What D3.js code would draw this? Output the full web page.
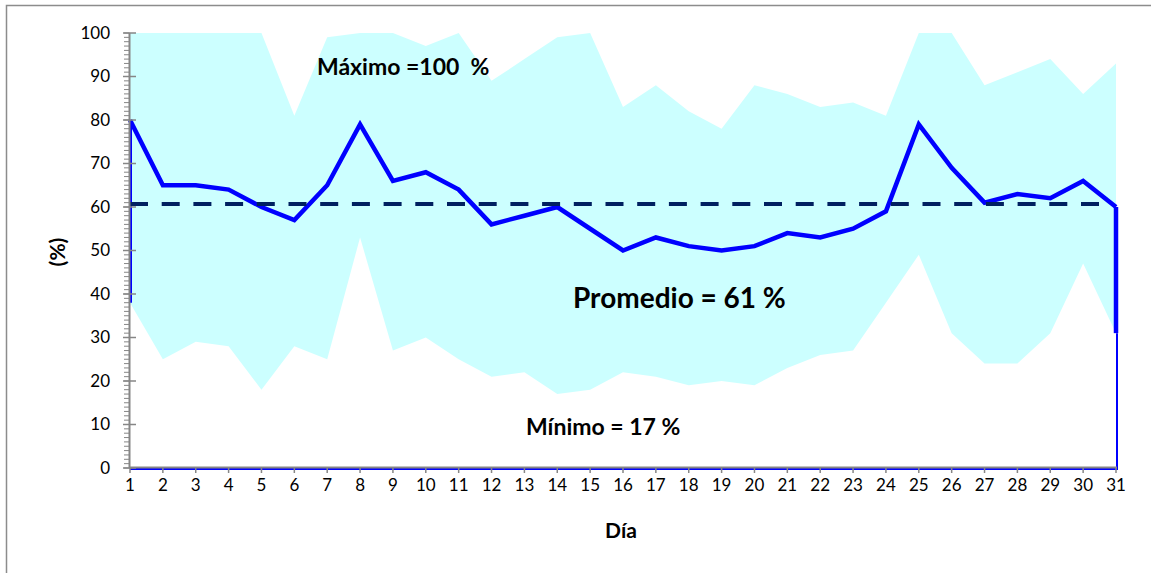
<!DOCTYPE html>
<html>
<head>
<meta charset="utf-8">
<script src="https://cdn.jsdelivr.net/npm/d3@7"></script>
<style>
  html, body { margin: 0; padding: 0; background: #fff; }
  svg { display: block; }
  text { font-family: Lato, Calibri, "Liberation Sans", sans-serif; fill: #000; }
</style>
</head>
<body>
<svg id="chart" width="1151" height="573"></svg>
<script>
// ---------- data ----------
const days = d3.range(1, 32);
const maxValues = [100,100,100,100,100,81,99,100,100,97,100,89,94,99,100,83,88,82,78,88,86,83,84,81,100,100,88,91,94,86,93];
const meanValues = [80,65,65,64,60,57,65,79,66,68,64,56,58,60,55,50,53,51,50,51,54,53,55,59,79,69,61,63,62,66,60];
const minValues = [38,25,29,28,18,28,25,53,27,30,25,21,22,17,18,22,21,19,20,19,23,26,27,38,49,31,24,24,31,47,31];
const overallMean = 60.7;
const yTicks = [0,10,20,30,40,50,60,70,80,90,100];
const labels = { max: "Máximo =100  %", mean: "Promedio = 61 %", min: "Mínimo = 17 %", xTitle: "Día", yTitle: "(%)" };

// ---------- scales ----------
const svg = d3.select("#chart");
const x = d3.scaleLinear().domain([1, 31]).range([130, 1116]);
const y = d3.scaleLinear().domain([0, 100]).range([468, 33]);

const rows = days.map((d, i) => ({ day: d, max: maxValues[i], mean: meanValues[i], min: minValues[i] }));

// frame
svg.append("rect").attr("x", 6.5).attr("y", 5.5).attr("width", 1170).attr("height", 600)
  .attr("fill", "#fff").attr("stroke", "#8c8c8c").attr("stroke-width", 1.5);

// band between min and max
svg.append("path").datum(rows)
  .attr("d", d3.area().x(d => x(d.day)).y0(d => y(d.min)).y1(d => y(d.max)))
  .attr("fill", "#CCFFFF");

// blue edges of the mean series (area outline)
const blue = "#0000FF";
svg.append("line").attr("x1", x(1) + 1).attr("x2", x(1) + 1)
  .attr("y1", y(meanValues[0])).attr("y2", y(minValues[0]))
  .attr("stroke", blue).attr("stroke-width", 2);
svg.append("line").attr("x1", x(31)).attr("x2", x(31))
  .attr("y1", y(meanValues[30])).attr("y2", y(minValues[30]))
  .attr("stroke", blue).attr("stroke-width", 4.5);
svg.append("line").attr("x1", x(31) + 1).attr("x2", x(31) + 1)
  .attr("y1", y(minValues[30])).attr("y2", y(0) + 1)
  .attr("stroke", blue).attr("stroke-width", 2);
svg.append("line").attr("x1", x(1)).attr("x2", x(31) + 2)
  .attr("y1", y(0) + 1).attr("y2", y(0) + 1)
  .attr("stroke", blue).attr("stroke-width", 2);

// mean line
svg.append("path").datum(rows)
  .attr("d", d3.line().x(d => x(d.day)).y(d => y(d.mean)))
  .attr("fill", "none").attr("stroke", blue).attr("stroke-width", 4.5)
  .attr("stroke-linejoin", "miter");

// overall average dashed line
svg.append("line").attr("x1", x(1)).attr("x2", x(30.6))
  .attr("y1", y(overallMean)).attr("y2", y(overallMean))
  .attr("stroke", "#002060").attr("stroke-width", 4)
  .attr("stroke-dasharray", "18,13.7");

// ---------- axes ----------
const axisColor = "#868686";
// y axis
const yAxis = svg.append("g");
yAxis.append("line").attr("x1", 129.5).attr("x2", 129.5).attr("y1", y(100)).attr("y2", y(0))
  .attr("stroke", axisColor).attr("stroke-width", 2);
yAxis.selectAll("line.minor").data(d3.range(0, 101, 1)).enter().append("line")
  .attr("class", "minor")
  .attr("x1", 124).attr("x2", 129.5)
  .attr("y1", d => y(d)).attr("y2", d => y(d))
  .attr("stroke", axisColor).attr("stroke-width", 1);
yAxis.selectAll("line.major").data(yTicks).enter().append("line")
  .attr("class", "major")
  .attr("x1", 123).attr("x2", 136)
  .attr("y1", d => y(d)).attr("y2", d => y(d))
  .attr("stroke", axisColor).attr("stroke-width", 1.5);
yAxis.selectAll("text").data(yTicks).enter().append("text")
  .attr("x", 110).attr("y", d => y(d)).attr("dy", "0.35em")
  .attr("text-anchor", "end").attr("font-size", 17)
  .text(d => d);

// x axis
const xAxis = svg.append("g");
xAxis.append("line").attr("x1", 129.5).attr("x2", x(31) + 1).attr("y1", y(0) - 0.5).attr("y2", y(0) - 0.5)
  .attr("stroke", axisColor).attr("stroke-width", 2);
xAxis.selectAll("line.tick").data(days).enter().append("line")
  .attr("class", "tick")
  .attr("x1", d => x(d)).attr("x2", d => x(d))
  .attr("y1", y(0)).attr("y2", y(0) + 5)
  .attr("stroke", axisColor).attr("stroke-width", 1.5);
xAxis.selectAll("text").data(days).enter().append("text")
  .attr("x", d => x(d)).attr("y", 485).attr("dy", "0.35em")
  .attr("text-anchor", "middle").attr("font-size", 17)
  .text(d => d);

// titles
svg.append("text").attr("x", 621).attr("y", 531).attr("dy", "0.35em")
  .attr("text-anchor", "middle").attr("font-size", 21).attr("font-weight", "bold")
  .text(labels.xTitle);
svg.append("text").attr("transform", "translate(58,252) rotate(-90)").attr("dy", "0.35em")
  .attr("text-anchor", "middle").attr("font-size", 21).attr("font-weight", "bold")
  .text(labels.yTitle);

// annotations
svg.append("text").attr("x", 317).attr("y", 67).attr("dy", "0.35em")
  .attr("font-size", 23).attr("font-weight", "bold")
  .attr("xml:space", "preserve")
  .text(labels.max);
svg.append("text").attr("x", 573).attr("y", 298).attr("dy", "0.35em")
  .attr("font-size", 28).attr("font-weight", "bold")
  .text(labels.mean);
svg.append("text").attr("x", 526).attr("y", 427).attr("dy", "0.35em")
  .attr("font-size", 23).attr("font-weight", "bold")
  .text(labels.min);
</script>
</body>
</html>
